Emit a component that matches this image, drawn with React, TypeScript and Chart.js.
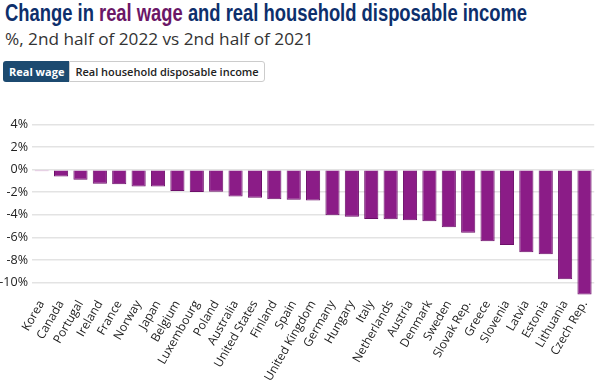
import React, { useEffect, useLayoutEffect, useRef } from "react";
import { Chart, registerables } from "chart.js";

Chart.register(...registerables);

const countries = [
  "Korea", "Canada", "Portugal", "Ireland", "France", "Norway", "Japan", "Belgium",
  "Luxembourg", "Poland", "Australia", "United States", "Finland", "Spain",
  "United Kingdom", "Germany", "Hungary", "Italy", "Netherlands", "Austria",
  "Denmark", "Sweden", "Slovak Rep.", "Greece", "Slovenia", "Latvia", "Estonia",
  "Lithuania", "Czech Rep.",
];

const realWage = [
  -0.03, -0.6, -0.9, -1.25, -1.3, -1.5, -1.5, -1.9,
  -1.98, -1.95, -2.37, -2.49, -2.63, -2.66,
  -2.72, -4.04, -4.18, -4.36, -4.39, -4.47,
  -4.56, -5.09, -5.59, -6.35, -6.67, -7.31, -7.49,
  -9.71, -11.05,
];

const yTickValues = [4, 2, 0, -2, -4, -6, -8, -10];

export default function App() {
  const ref = useRef<HTMLCanvasElement | null>(null);
  const titleRef = useRef<HTMLDivElement | null>(null);

  useLayoutEffect(() => {
    const el = titleRef.current;
    if (!el) return;
    const w = el.scrollWidth;
    if (w > 0) el.style.transform = `scaleX(${522 / w})`;
  }, []);

  useEffect(() => {
    if (!ref.current) return;
    const chart = new Chart(ref.current, {
      type: "bar",
      data: {
        labels: countries,
        datasets: [
          {
            label: "Real wage",
            data: realWage,
            backgroundColor: realWage.map((v) => (Math.abs(v) < 0.1 ? "#c46fc0" : "#8b1c87")),
            borderColor: realWage.map((v) => (Math.abs(v) < 0.1 ? "#c46fc0" : "#6c0f69")),
            borderWidth: 1,
            minBarLength: 1.5,
            categoryPercentage: 1,
            barPercentage: 0.73,
          },
        ],
      },
      options: {
        animation: false,
        responsive: false,
        maintainAspectRatio: false,
        layout: { padding: { top: 10, right: 1, left: 0, bottom: 0 } },
        plugins: { legend: { display: false }, tooltip: { enabled: false } },
        scales: {
          x: {
            grid: { display: false, drawTicks: false },
            border: { display: false },
            afterFit: (axis: any) => {
              axis.height = 87;
            },
            ticks: {
              autoSkip: false,
              minRotation: 60,
              maxRotation: 60,
              color: "#222",
              font: { family: "'Open Sans'", size: 12 },
              padding: 3,
            },
          },
          y: {
            min: -11.1,
            max: 4,
            border: { display: false },
            grid: { color: "#e3e3e3", lineWidth: 1.5, drawTicks: false },
            afterBuildTicks: (axis: any) => {
              axis.ticks = yTickValues.map((v) => ({ value: v }));
            },
            afterFit: (axis: any) => {
              axis.width = 32;
            },
            ticks: {
              color: "#222",
              padding: 4,
              font: { family: "'Open Sans'", size: 12.5 },
              callback: (v: any) => `${v}%`,
            },
          },
        },
      },
    });
    return () => chart.destroy();
  }, []);

  return (
    <div
      style={{
        position: "fixed",
        left: 0,
        top: 0,
        width: 600,
        height: 382,
        background: "#fff",
        overflow: "hidden",
      }}
    >
      <div
        ref={titleRef}
        style={{
          position: "absolute",
          left: 5,
          top: -1,
          fontFamily: "'Liberation Sans', sans-serif",
          fontWeight: 700,
          fontSize: 23,
          color: "#0d2f6c",
          whiteSpace: "nowrap",
          lineHeight: "28px",
          transformOrigin: "0 0",
        }}
      >
        Change in <span style={{ color: "#6b1767" }}>real wage</span> and real household disposable income
      </div>
      <div
        style={{
          position: "absolute",
          left: 5,
          top: 27,
          fontFamily: "'Open Sans', sans-serif",
          fontSize: 17.2,
          color: "#333",
          whiteSpace: "nowrap",
          lineHeight: "24px",
        }}
      >
        %, 2nd half of 2022 vs 2nd half of 2021
      </div>
      <div
        style={{
          position: "absolute",
          left: 3,
          top: 61,
          display: "flex",
          fontFamily: "'Open Sans', sans-serif",
          fontSize: 11,
        }}
      >
        <div
          style={{
            background: "#1c4a70",
            color: "#fff",
            fontWeight: 700,
            height: 21,
            lineHeight: "21px",
            padding: "0 5px 0 6px",
            borderRadius: "3px 0 0 3px",
            boxSizing: "border-box",
          }}
        >
          Real wage
        </div>
        <div
          style={{
            background: "#fff",
            color: "#222",
            fontWeight: 600,
            height: 21,
            lineHeight: "19px",
            padding: "0 5px",
            border: "1px solid #ccc",
            borderRadius: "0 3px 3px 0",
            boxSizing: "border-box",
          }}
        >
          Real household disposable income
        </div>
      </div>
      <canvas
        ref={ref}
        width={600}
        height={269}
        style={{ position: "absolute", left: 0, top: 113, width: 600, height: 269 }}
      />
    </div>
  );
}
